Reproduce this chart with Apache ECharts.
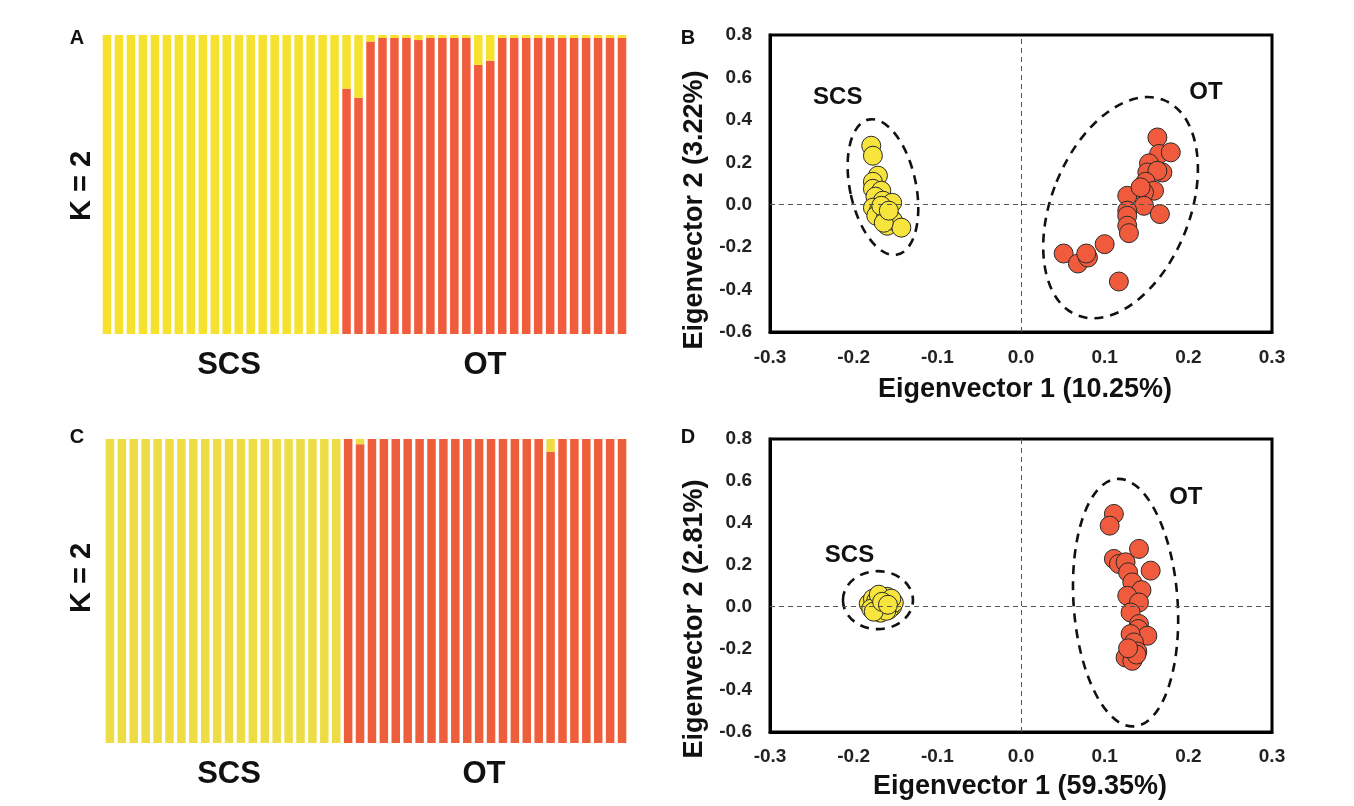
<!DOCTYPE html>
<html>
<head>
<meta charset="utf-8">
<script src="https://cdn.jsdelivr.net/npm/echarts@6/dist/echarts.min.js"></script>
<style>
  html, body { margin: 0; padding: 0; background: #fff; }
  #main { width: 1354px; height: 806px; }
</style>
</head>
<body>
<div id="main"></div>
<script>
// individuals: 20 SCS then 24 OT
var individuals = ['1','2','3','4','5','6','7','8','9','10','11','12','13','14','15','16','17','18','19','20',
  '21','22','23','24','25','26','27','28','29','30','31','32','33','34','35','36','37','38','39','40','41','42','43','44'];

// panel A, K = 2 membership
var redA = [0,0,0,0,0,0,0,0,0,0,0,0,0,0,0,0,0,0,0,0,
  0.82,0.79,0.978,0.99,0.99,0.99,0.983,0.99,0.99,0.99,0.99,0.90,0.914,0.99,0.99,0.99,0.99,0.99,0.99,0.99,0.99,0.99,0.99,0.99];
var yellowA = [1,1,1,1,1,1,1,1,1,1,1,1,1,1,1,1,1,1,1,1,
  0.18,0.21,0.022,0.01,0.01,0.01,0.017,0.01,0.01,0.01,0.01,0.10,0.086,0.01,0.01,0.01,0.01,0.01,0.01,0.01,0.01,0.01,0.01,0.01];

// panel C, K = 2 membership
var redC = [0,0,0,0,0,0,0,0,0,0,0,0,0,0,0,0,0,0,0,0,
  1,0.983,1,1,1,1,1,1,1,1,1,1,1,1,1,1,1,0.958,1,1,1,1,1,1];
var yellowC = [1,1,1,1,1,1,1,1,1,1,1,1,1,1,1,1,1,1,1,1,
  0,0.017,0,0,0,0,0,0,0,0,0,0,0,0,0,0,0,0.042,0,0,0,0,0,0];

// panel B, PCA
var scsB = [[-0.179,0.278],[-0.177,0.231],[-0.171,0.137],[-0.177,0.108],[-0.177,0.075],[-0.167,0.066],
  [-0.174,0.038],[-0.165,0.019],[-0.154,0.009],[-0.177,-0.014],[-0.170,-0.028],[-0.173,-0.052],
  [-0.161,-0.052],[-0.155,-0.066],[-0.160,-0.099],[-0.153,-0.075],[-0.143,-0.108],[-0.164,-0.085],
  [-0.167,-0.005],[-0.158,-0.028]];
var otB = [[0.163,0.317],[0.165,0.239],[0.179,0.247],[0.153,0.195],[0.151,0.152],[0.169,0.152],
  [0.163,0.160],[0.149,0.108],[0.159,0.066],[0.147,0.058],[0.127,0.042],[0.147,-0.005],
  [0.166,-0.044],[0.127,-0.028],[0.127,-0.052],[0.127,-0.099],[0.129,-0.134],[0.100,-0.186],
  [0.051,-0.230],[0.068,-0.277],[0.080,-0.249],[0.078,-0.230],[0.117,-0.362],[0.143,0.082]];

// panel D, PCA
var scsD = [[-0.182,0.013],[-0.177,0.037],[-0.172,-0.006],[-0.168,-0.030],[-0.167,0.037],[-0.162,0.027],
  [-0.160,0.046],[-0.157,0.018],[-0.154,-0.001],[-0.158,-0.016],[-0.165,0.003],[-0.173,0.027],
  [-0.152,0.018],[-0.179,-0.011],[-0.170,0.056],[-0.161,-0.021],[-0.155,0.037],[-0.176,-0.025],
  [-0.166,0.022],[-0.159,0.008]];
var otD = [[0.111,0.442],[0.106,0.386],[0.141,0.275],[0.111,0.227],[0.117,0.203],[0.125,0.211],
  [0.128,0.163],[0.155,0.171],[0.133,0.115],[0.144,0.078],[0.127,0.051],[0.141,0.019],
  [0.131,-0.029],[0.141,-0.084],[0.140,-0.108],[0.151,-0.140],[0.131,-0.132],[0.135,-0.172],
  [0.125,-0.244],[0.135,-0.244],[0.139,-0.215],[0.133,-0.260],[0.138,-0.230],[0.128,-0.200]];

// dashed group ellipses: centre in data units, radii px, tilt deg (ccw)
var ellipseB = [[-0.165,0.083],[0.119,-0.014]];
var ellipseBShape = [{rx:33, ry:69, tilt:12},{rx:69, ry:116, tilt:-22}];
var ellipseD = [[-0.171,0.030],[0.125,0.018]];
var ellipseDShape = [{rx:35, ry:29, tilt:0},{rx:52, ry:124, tilt:4}];

// group labels inside pca plots
var labelB = [['SCS',-0.219,0.505],['OT',0.221,0.528]];
var labelD = [['SCS',-0.205,0.243],['OT',0.197,0.52]];

var FONT = "'Liberation Sans', Arial, sans-serif";
var c_yel = '#f6e12f', c_red = '#f05c3c';
var c_yelC = '#eddc44', c_redC = '#ee5e3a';

var chart = echarts.init(document.getElementById('main'));

function fmt(v){ if (Math.abs(v) < 1e-9) return '0.0'; return v.toFixed(1); }

function pcaX(grid, m){
  return {
    type:'value', gridIndex:grid, min:-0.3, max:0.3, interval:0.1,
    axisLine:{show:true, onZero:false, lineStyle:{color:'#000', width:3}},
    axisTick:{show:false}, splitLine:{show:false},
    axisLabel:{formatter:fmt, fontSize:19, fontWeight:'bold', color:'#222', fontFamily:FONT, margin:m}
  };
}
function pcaY(grid){
  return {
    type:'value', gridIndex:grid, min:-0.6, max:0.8, interval:0.2,
    axisLine:{show:true, onZero:false, lineStyle:{color:'#000', width:3}},
    axisTick:{show:false}, splitLine:{show:false},
    axisLabel:{formatter:fmt, fontSize:19, fontWeight:'bold', color:'#222', fontFamily:FONT, margin:18}
  };
}
function ellipseSeries(xi, centres, shapes){
  return {
    type:'custom', xAxisIndex:xi, yAxisIndex:xi, data:centres, z:1, silent:true, clip:false,
    renderItem:function(params, api){
      var p = api.coord([api.value(0), api.value(1)]);
      var s = shapes[params.dataIndex];
      return {
        type:'ellipse', x:p[0], y:p[1], rotation:s.tilt*Math.PI/180,
        shape:{cx:0, cy:0, rx:s.rx, ry:s.ry},
        style:{fill:'none', stroke:'#111', lineWidth:2.6, lineDash:[9,7]}
      };
    }
  };
}
function dots(xi, data, col, withZero, labels){
  var s = {
    type:'scatter', xAxisIndex:xi, yAxisIndex:xi, data:data, symbolSize:19, z:3,
    itemStyle:{color:col, borderColor:'#2a2a2a', borderWidth:1, opacity:1}
  };
  if (withZero) {
    s.markLine = {
      silent:true, symbol:['none','none'], label:{show:false},
      lineStyle:{type:[5,4], color:'#555', width:1},
      data:[{xAxis:0},{yAxis:0}]
    };
    s.markPoint = {
      silent:true, symbol:'circle', symbolSize:1, itemStyle:{color:'rgba(0,0,0,0)'},
      label:{show:true, position:'inside', fontSize:24, fontWeight:'bold', color:'#111', fontFamily:FONT,
        formatter:function(p){ return p.name; }},
      data:labels.map(function(l){ return {name:l[0], coord:[l[1], l[2]]}; })
    };
  }
  return s;
}
function bars(xi, red, yel, cr, cy){
  return [
    {type:'bar', xAxisIndex:xi, yAxisIndex:xi, stack:'q'+xi, data:red, barWidth:8.5,
      itemStyle:{color:cr}, silent:true},
    {type:'bar', xAxisIndex:xi, yAxisIndex:xi, stack:'q'+xi, data:yel, barWidth:8.5,
      itemStyle:{color:cy}, silent:true}
  ];
}
function txt(x, y, text, size, rot){
  return {type:'text', x:x, y:y, rotation:rot || 0, silent:true,
    style:{text:text, fontSize:size, fontWeight:'bold', fontFamily:FONT, fill:'#111',
      align:'center', verticalAlign:'middle'}};
}

option = {
  animation:false,
  backgroundColor:'#fff',
  grid:[
    {left:101, top:35, width:527, height:299},
    {left:770, top:35, width:502, height:297, show:true, borderColor:'#000', borderWidth:3},
    {left:104, top:439, width:524, height:304},
    {left:770, top:439, width:502, height:293, show:true, borderColor:'#000', borderWidth:3}
  ],
  xAxis:[
    {type:'category', gridIndex:0, data:individuals, show:false},
    pcaX(1, 16),
    {type:'category', gridIndex:2, data:individuals, show:false},
    pcaX(3, 15)
  ],
  yAxis:[
    {type:'value', gridIndex:0, min:0, max:1, show:false},
    pcaY(1),
    {type:'value', gridIndex:2, min:0, max:1, show:false},
    pcaY(3)
  ],
  series: [].concat(
    bars(0, redA, yellowA, c_red, c_yel),
    bars(2, redC, yellowC, c_redC, c_yelC),
    [
      ellipseSeries(1, ellipseB, ellipseBShape),
      dots(1, scsB, '#f7e43c', true, labelB),
      dots(1, otB, '#ef5b3c', false),
      ellipseSeries(3, ellipseD, ellipseDShape),
      dots(3, scsD, '#f7e43c', true, labelD),
      dots(3, otD, '#ef5b3c', false)
    ]
  ),
  graphic:[
    txt(77, 38, 'A', 20), txt(688, 38, 'B', 20),
    txt(77, 437, 'C', 20), txt(688, 437, 'D', 20),
    txt(82, 186, 'K = 2', 29, Math.PI/2), txt(82, 578, 'K = 2', 29, Math.PI/2),
    txt(229, 365, 'SCS', 31), txt(485, 365, 'OT', 31),
    txt(229, 774, 'SCS', 31), txt(484, 774, 'OT', 31),
    txt(695, 210, 'Eigenvector 2 (3.22%)', 27, Math.PI/2),
    txt(1025, 390, 'Eigenvector 1 (10.25%)', 27),
    txt(695, 619, 'Eigenvector 2 (2.81%)', 27, Math.PI/2),
    txt(1020, 787, 'Eigenvector 1 (59.35%)', 27)
  ]
};
chart.setOption(option);
</script>
</body>
</html>
